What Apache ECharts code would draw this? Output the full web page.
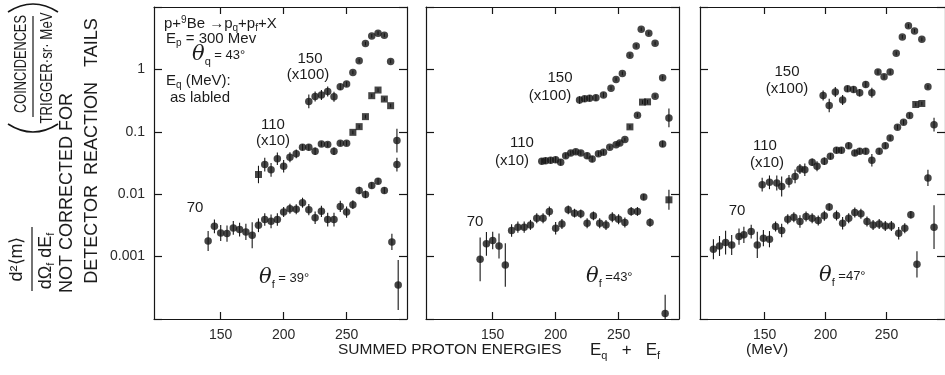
<!DOCTYPE html>
<html><head><meta charset="utf-8">
<script src="https://cdn.jsdelivr.net/npm/echarts@6/dist/echarts.min.js"></script>
<style>html,body{margin:0;padding:0;background:#fff}#c{width:945px;height:375px}</style>
</head><body><div id="c"></div>
<script>
// ---------- axis settings ----------
const xTicks = [150, 200, 250];
const xMin = 97, xMax = 298;
const yMin = 1e-4, yMax = 10;
const yTickLabels = {'0':'1','-1':'0.1','-2':'0.01','-3':'0.001'};

// ---------- Panel 1 : theta_f = 39 deg ----------
const p1_70_E = [140,145,150,155,160,165,170,175,180,185,190,195,200,205,210,215,220,225,230,235,240,245,250,255,260,265,270,275,280,286,291];
const p1_70_v = [0.00178,0.00306,0.00239,0.00234,0.00288,0.00271,0.00248,0.0022,0.00318,0.00392,0.00368,0.00392,0.00518,0.00586,0.00572,0.00731,0.00565,0.00421,0.00531,0.00392,0.00392,0.00638,0.00518,0.00679,0.0115,0.00993,0.0138,0.0162,0.0115,0.00172,0.00035];
const p1_70_err = [0.16,0.11,0.13,0.13,0.11,0.11,0.13,0.21,0.11,0.1,0.11,0.1,0.08,0.08,0.08,0.08,0.09,0.1,0.09,0.11,0.11,0.09,0.09,0.07,0.06,0.06,0.05,0.05,0.05,0.13,0.4];
const p1_110_E = [185,190,195,200,205,210,215,220,225,230,235,240,245,250,290];
const p1_110_v = [0.0299,0.0246,0.0369,0.0281,0.0392,0.0444,0.0565,0.0565,0.0489,0.064,0.0625,0.0489,0.0656,0.0656,0.0299];
const p1_110_err = [0.11,0.11,0.1,0.1,0.08,0.07,0.05,0.05,0.06,0.04,0.04,0.06,0.04,0.04,0.11];
const p1_110sq_E = [180,255,260,265,270,275,280,285];
const p1_110sq_v = [0.0207,0.098,0.121,0.175,0.379,0.467,0.335,0.262];
const p1_110sq_err = [0.14,0.03,0.03,0.03,0.03,0.03,0.03,0.03];
const p1_150_E = [220,225,230,235,240,245,250,255,260,265,270,275,280,285,290];
const p1_150_v = [0.307,0.369,0.388,0.444,0.365,0.527,0.582,0.893,1.37,2.59,3.44,3.80,3.53,1.34,0.0723];
const p1_150_err = [0.11,0.08,0.08,0.08,0.08,0.05,0.04,0.03,0.03,0.03,0.03,0.03,0.03,0.03,0.19];

// ---------- Panel 2 : theta_f = 43 deg ----------
const p2_70_E = [140,145,150,155,160,165,170,175,180,185,190,195,200,205,210,215,220,225,230,235,240,245,250,255,260,265,270,275,287];
const p2_70_v = [0.000905,0.0016,0.00181,0.00148,0.000733,0.00262,0.00296,0.00296,0.00322,0.00413,0.00413,0.00529,0.00285,0.00334,0.00561,0.00497,0.00484,0.00343,0.0045,0.00343,0.00322,0.00428,0.00398,0.00352,0.00529,0.00529,0.00898,0.00352,0.000123];
const p2_70_err = [0.35,0.19,0.14,0.2,0.35,0.1,0.09,0.09,0.08,0.08,0.08,0.08,0.1,0.08,0.07,0.07,0.07,0.08,0.07,0.08,0.08,0.08,0.08,0.08,0.07,0.07,0.05,0.07,0.3];
const p2_110_E = [189,192,196,200,204,208,212,216,220,225,229,234,238,243,248,251,255,265,279,285];
const p2_110_v = [0.0337,0.0344,0.0349,0.0357,0.0324,0.0414,0.0458,0.0481,0.0458,0.0414,0.0366,0.0446,0.047,0.0565,0.0622,0.0663,0.075,0.185,0.373,0.0638];
const p2_110_err = [0.05,0.05,0.05,0.05,0.05,0.04,0.04,0.04,0.04,0.05,0.05,0.04,0.04,0.03,0.03,0.03,0.03,0.03,0.03,0.05];
const p2_110sq_E = [259,269,273,290];
const p2_110sq_v = [0.12,0.299,0.302,0.00813];
const p2_110sq_err = [0.03,0.03,0.03,0.16];
const p2_150_E = [219,223,227,232,238,244,248,253,259,264,268,274,279,285,290];
const p2_150_v = [0.322,0.338,0.346,0.351,0.39,0.5,0.69,0.863,1.68,2.38,4.4,3.79,2.62,0.736,0.167];
const p2_150_err = [0.06,0.05,0.05,0.05,0.04,0.03,0.03,0.03,0.03,0.03,0.03,0.03,0.03,0.03,0.15];

// ---------- Panel 3 : theta_f = 47 deg ----------
const p3_70_E = [108,113,118,123,129,133,139,144,149,154,159,164,169,174,179,184,189,194,199,203,209,214,219,224,229,234,239,244,249,254,260,265,270,275,289];
const p3_70_v = [0.00131,0.00148,0.00168,0.00154,0.00209,0.00223,0.00252,0.00154,0.00197,0.0019,0.00303,0.00262,0.00398,0.00428,0.00366,0.0044,0.00413,0.00379,0.0045,0.00621,0.00456,0.00343,0.00413,0.00509,0.00484,0.00366,0.00322,0.00334,0.0031,0.0031,0.00237,0.00285,0.00467,0.000752,0.00296];
const p3_70_err = [0.16,0.16,0.19,0.16,0.13,0.13,0.11,0.21,0.13,0.13,0.08,0.11,0.08,0.08,0.1,0.08,0.08,0.08,0.08,0.06,0.08,0.1,0.08,0.08,0.08,0.08,0.08,0.08,0.08,0.08,0.1,0.08,0.06,0.21,0.35];
const p3_110_E = [148,154,160,164,170,175,179,183,189,193,199,204,209,213,219,224,228,233,238,244,249,253,259,264,269,284];
const p3_110_v = [0.0142,0.0155,0.0151,0.0133,0.0161,0.0193,0.0253,0.0247,0.0324,0.028,0.0337,0.0405,0.0506,0.0506,0.06,0.0458,0.0488,0.0488,0.0349,0.0488,0.06,0.0798,0.1186,0.1426,0.182,0.0182];
const p3_110_err = [0.11,0.11,0.12,0.16,0.1,0.11,0.08,0.1,0.06,0.08,0.06,0.05,0.05,0.05,0.05,0.05,0.05,0.05,0.1,0.05,0.05,0.04,0.04,0.04,0.04,0.13];
const p3_110sq_E = [274,279];
const p3_110sq_v = [0.274,0.284];
const p3_110sq_err = [0.03,0.03];
const p3_150_E = [198,203,208,214,218,223,228,233,238,243,248,253,258,263,268,273,279,284,289];
const p3_150_v = [0.382,0.264,0.433,0.322,0.49,0.477,0.422,0.574,0.422,0.908,0.763,0.908,1.81,3.32,4.99,4.14,3.04,0.527,0.13];
const p3_150_err = [0.08,0.11,0.08,0.08,0.05,0.05,0.06,0.05,0.08,0.04,0.04,0.04,0.03,0.03,0.03,0.03,0.03,0.03,0.11];

// ---------- build ----------
const panels = [
  [[p1_70_E,p1_70_v,p1_70_err,'circle'],[p1_110_E,p1_110_v,p1_110_err,'circle'],[p1_110sq_E,p1_110sq_v,p1_110sq_err,'rect'],[p1_150_E,p1_150_v,p1_150_err,'circle']],
  [[p2_70_E,p2_70_v,p2_70_err,'circle'],[p2_110_E,p2_110_v,p2_110_err,'circle'],[p2_110sq_E,p2_110sq_v,p2_110sq_err,'rect'],[p2_150_E,p2_150_v,p2_150_err,'circle']],
  [[p3_70_E,p3_70_v,p3_70_err,'circle'],[p3_110_E,p3_110_v,p3_110_err,'circle'],[p3_110sq_E,p3_110sq_v,p3_110sq_err,'rect'],[p3_150_E,p3_150_v,p3_150_err,'circle']]
];
const gridLefts = [154, 426, 700];
const FONT = "'Liberation Sans', Arial, Helvetica, sans-serif";
const INK = '#161616';

const grids = [], xAxes = [], yAxes = [], series = [];
gridLefts.forEach((l, i) => {
  grids.push({left: l, top: 7, width: 253, height: 312});
  const lineStyle = {color: INK, width: 1.2};
  const tick = {show: true, inside: true, length: 7, lineStyle: {color: INK, width: 1.2}, customValues: xTicks};
  xAxes.push({gridIndex: i, type: 'value', min: xMin, max: xMax, position: 'bottom',
    axisLine: {show: true, onZero: false, lineStyle}, axisTick: tick,
    axisLabel: {show: true, customValues: xTicks, margin: 9, fontSize: 14, color: '#2a2a2a', fontFamily: FONT},
    splitLine: {show: false}});
  xAxes.push({gridIndex: i, type: 'value', min: xMin, max: xMax, position: 'top',
    axisLine: {show: true, onZero: false, lineStyle}, axisTick: tick,
    axisLabel: {show: false}, splitLine: {show: false}});
  const ytick = {show: true, inside: true, length: 8, lineStyle: {color: INK, width: 1.2}};
  yAxes.push({gridIndex: i, type: 'log', logBase: 10, min: yMin, max: yMax, position: 'left',
    axisLine: {show: true, onZero: false, lineStyle}, axisTick: ytick,
    axisLabel: {show: i === 0, margin: 9, fontSize: 14, color: '#2a2a2a', fontFamily: FONT,
      formatter: v => yTickLabels[String(Math.round(Math.log10(v)))] || ''},
    splitLine: {show: false}});
  yAxes.push({gridIndex: i, type: 'log', logBase: 10, min: yMin, max: yMax, position: 'right',
    axisLine: {show: true, onZero: false, lineStyle}, axisTick: ytick,
    axisLabel: {show: false}, splitLine: {show: false}});

  panels[i].forEach(([E, v, err, sym]) => {
    const bars = E.map((e, k) => [e, v[k] / Math.pow(10, err[k]), v[k] * Math.pow(10, err[k])]);
    series.push({type: 'custom', xAxisIndex: 2*i, yAxisIndex: 2*i, clip: true, silent: true, z: 2,
      data: bars,
      renderItem: (params, api) => {
        const a = api.coord([api.value(0), api.value(1)]);
        const b = api.coord([api.value(0), api.value(2)]);
        return {type: 'line', shape: {x1: a[0], y1: a[1], x2: b[0], y2: b[1]}, style: {stroke: INK, lineWidth: 1.1}};
      }});
    series.push({type: 'scatter', xAxisIndex: 2*i, yAxisIndex: 2*i, z: 3, silent: true,
      symbol: sym, symbolSize: sym === 'rect' ? 7 : 7.5,
      itemStyle: {color: INK},
      data: E.map((e, k) => [e, v[k]])});
  });
});

// ---------- annotations ----------
const C = '#1c1c1c';
const base = {fontSize: 14, fontFamily: FONT, fill: C};
const rich = {
  a: {fontSize: 15, fontFamily: FONT, color: C, lineHeight: 18},
  s: {fontSize: 13, fontFamily: FONT, color: C, lineHeight: 18},
  b: {fontSize: 15, fontFamily: FONT, color: C, lineHeight: 20},
  sub: {fontSize: 10, fontFamily: FONT, color: C, lineHeight: 10, verticalAlign: 'bottom'},
  sup: {fontSize: 10, fontFamily: FONT, color: C, lineHeight: 10, verticalAlign: 'top'},
  th: {fontSize: 21, fontFamily: "'DejaVu Serif', serif", fontStyle: 'italic', color: C, lineHeight: 24},
  thsub: {fontSize: 11, fontFamily: FONT, color: C, lineHeight: 12, verticalAlign: 'bottom'},
  ax: {fontSize: 15.5, fontFamily: FONT, color: C, lineHeight: 20},
  axE: {fontSize: 17, fontFamily: FONT, color: C, lineHeight: 22},
  axsub: {fontSize: 11, fontFamily: FONT, color: C, lineHeight: 12, verticalAlign: 'bottom'},
  yt: {fontSize: 18, fontFamily: FONT, color: C, lineHeight: 20},
  y1: {fontSize: 18, fontFamily: FONT, color: C, lineHeight: 20},
  y2: {fontSize: 17, fontFamily: FONT, color: C, lineHeight: 20},
  y1sub: {fontSize: 11, fontFamily: FONT, color: C, lineHeight: 11, verticalAlign: 'bottom'}
};
function txt(x, y, text, align, rotation, sx) {
  return {type: 'text', x, y, rotation: rotation || 0, scaleX: sx || 1, z: 10, silent: true,
    style: Object.assign({}, base, {text, rich, align: align || 'left', verticalAlign: 'middle'})};
}
const R = Math.PI / 2;
const graphics = [
  // panel 1 reaction info
  txt(164, 24, '{a|p+}{sup|9}{a|Be →p}{sub|q}{a|+p}{sub|f}{a|+X}'),
  txt(166, 39, '{a|E}{sub|p}{a| = 300 Mev}'),
  txt(192, 55, '{th|θ}{thsub|q}{s| = 43°}'),
  txt(166, 81, '{a|E}{sub|q}{a| (MeV):}'),
  txt(170, 98, '{a|as labled}'),
  // panel 1 series labels
  txt(310, 59, '{b|150}', 'center'), txt(308, 75, '{b|(x100)}', 'center'),
  txt(273, 125, '{b|110}', 'center'), txt(273, 141, '{b|(x10)}', 'center'),
  txt(195, 208, '{b|70}', 'center'),
  txt(259, 278, '{th|θ}{thsub|f}{s| = 39°}'),
  // panel 2
  txt(560, 78, '{b|150}', 'center'), txt(550, 96, '{b|(x100)}', 'center'),
  txt(522, 143, '{b|110}', 'center'), txt(512, 161, '{b|(x10)}', 'center'),
  txt(475, 222, '{b|70}', 'center'),
  txt(586, 277, '{th|θ}{thsub|f}{s| =43°}'),
  // panel 3
  txt(787, 72, '{b|150}', 'center'), txt(787, 89, '{b|(x100)}', 'center'),
  txt(765, 146, '{b|110}', 'center'), txt(767, 163, '{b|(x10)}', 'center'),
  txt(737, 211, '{b|70}', 'center'),
  txt(819, 276, '{th|θ}{thsub|f}{s| =47°}'),
  // x-axis title
  txt(338, 350, '{ax|SUMMED PROTON ENERGIES}'),
  txt(590, 350, '{axE|E}{axsub|q}{axE|   +   E}{axsub|f}'),
  txt(746, 350, '{ax|(MeV)}'),
  // y-axis title (rotated)
  txt(17, 259, '{y1|d²⟨m⟩}', 'center', R),
  txt(46, 261, '{y1|dΩ}{y1sub|f}{y1| dE}{y1sub|f}', 'center', R),
  txt(21, 64, '{y2|COINCIDENCES}', 'center', R, 0.75),
  txt(47, 68, '{y2|TRIGGER·sr· MeV}', 'center', R, 0.78),
  txt(67, 193, '{yt|NOT CORRECTED FOR}', 'center', R),
  txt(92, 151, '{yt|DETECTOR  REACTION   TAILS}', 'center', R),
  {type: 'line', shape: {x1: 32, y1: 227, x2: 32, y2: 291}, style: {stroke: INK, lineWidth: 1.2}, silent: true},
  {type: 'line', shape: {x1: 33, y1: 16, x2: 33, y2: 117}, style: {stroke: INK, lineWidth: 1.2}, silent: true},
  {type: 'bezierCurve', shape: {x1: 8, y1: 124, x2: 58, y2: 124, cpx1: 33, cpy1: 140}, style: {stroke: INK, lineWidth: 1.6, fill: null}, silent: true},
  {type: 'bezierCurve', shape: {x1: 8, y1: 12, x2: 58, y2: 12, cpx1: 33, cpy1: -4}, style: {stroke: INK, lineWidth: 1.6, fill: null}, silent: true}
];

const chart = echarts.init(document.getElementById('c'), null, {renderer: 'canvas'});
chart.setOption({
  animation: false,
  backgroundColor: '#ffffff',
  grid: grids, xAxis: xAxes, yAxis: yAxes, series,
  graphic: {elements: graphics}
});
</script></body></html>
